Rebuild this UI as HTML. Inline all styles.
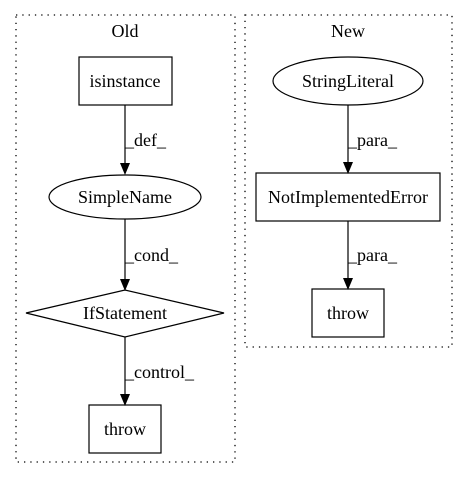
<!DOCTYPE html>
<html><head><style>body{margin:0;background:#fff}</style></head><body>
<svg width="467" height="480" viewBox="0 0 467 480" xmlns="http://www.w3.org/2000/svg" font-family="Liberation Serif, serif" font-size="18">
<rect width="467" height="480" fill="#fff"/>
<rect x="16" y="15" width="219" height="447" fill="none" stroke="#000" stroke-width="1.3" stroke-dasharray="1.3,5"/>
<rect x="245" y="15" width="207" height="332" fill="none" stroke="#000" stroke-width="1.3" stroke-dasharray="1.3,5"/>
<text x="125" y="37" text-anchor="middle">Old</text>
<text x="348" y="37" text-anchor="middle">New</text>
<g fill="none" stroke="#000" stroke-width="1.2">
<rect x="79" y="57" width="93" height="48"/>
<ellipse cx="125" cy="197" rx="76" ry="22"/>
<polygon points="125,290 224,313 125,337 26,313"/>
<rect x="89" y="405" width="72" height="48"/>
<ellipse cx="348" cy="81" rx="75" ry="24"/>
<rect x="256" y="173" width="184" height="48"/>
<rect x="312" y="289" width="72" height="48"/>
<line x1="125" y1="105" x2="125" y2="163"/>
<line x1="125" y1="219" x2="125" y2="279"/>
<line x1="125" y1="337" x2="125" y2="394"/>
<line x1="348" y1="105" x2="348" y2="162"/>
<line x1="348" y1="221" x2="348" y2="278"/>
</g>
<g fill="#000">
<polygon points="120,163 130,163 125,175"/>
<polygon points="120,279 130,279 125,291"/>
<polygon points="120,394 130,394 125,406"/>
<polygon points="343,162 353,162 348,174"/>
<polygon points="343,278 353,278 348,290"/>
</g>
<g text-anchor="middle">
<text x="125" y="87">isinstance</text>
<text x="125" y="203">SimpleName</text>
<text x="125" y="319">IfStatement</text>
<text x="125" y="435">throw</text>
<text x="348" y="87">StringLiteral</text>
<text x="348" y="203">NotImplementedError</text>
<text x="348" y="319">throw</text>
</g>
<text x="125" y="146">_def_</text>
<text x="125" y="261">_cond_</text>
<text x="125" y="378">_control_</text>
<text x="348" y="146">_para_</text>
<text x="348" y="261">_para_</text>
</svg>
</body></html>
